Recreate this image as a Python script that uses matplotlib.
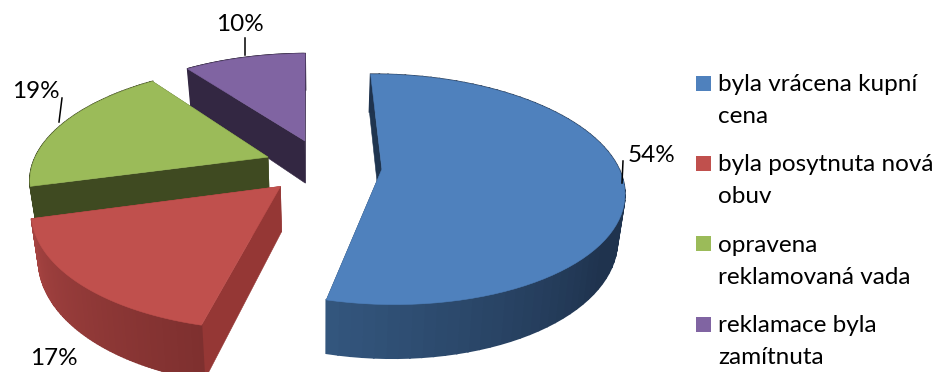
import matplotlib
matplotlib.use("Agg")
import matplotlib.pyplot as plt
from matplotlib.colors import to_rgb
import numpy as np

# Reasons and their shares in percent
categories = ["byla vrácena kupní\ncena", "byla posytnuta nová\nobuv",
              "opravena\nreklamovaná vada", "reklamace byla\nzamítnuta"]
values = [54, 17, 19, 10]
colors = ["#4F81BD", "#C0504D", "#9BBB59", "#8064A2"]
face_colors = ["#1F3550", "#953735", "#3F4A21", "#332742"]
# wall shade at the start and the end of each slice
wall_colors = [("#1F334E", "#34577F"), ("#7E302F", "#A54341"),
               ("#3F4A21", "#3F4A21"), ("#332742", "#332742")]

# 3D pie set up, in pixels
cx, cy = 323, 166
rx, ry = 236, 110.5
persp = 0.175
explode = 0.25
depth = 44
shrink = 0.975
start_angle = -0.7


def project(u, v):
    s = 1 / (1 + persp * v)
    return cx + rx * u * s, cy - ry * v * s, s


def top_point(u, v):
    x, y, s = project(u, v)
    return x, y


def bottom_point(u, v):
    x, y, s = project(u, v)
    return cx + (x - cx) * shrink, y + depth * s


def fill(points, color, z, lw=0.4):
    pts = np.array(points)
    ax.fill(pts[:, 0], pts[:, 1], color=color, lw=lw, zorder=z)


fig = plt.figure(figsize=(9.39, 3.72), dpi=100)
ax = fig.add_axes([0, 0, 1, 1])
ax.set_xlim(0, 939)
ax.set_ylim(372, 0)
ax.axis("off")

# slices go clockwise from the top, drawn back to front
angles = start_angle + np.cumsum([0] + values) * 3.6
order = [3, 2, 1, 0]
for n, i in enumerate(order):
    t0, t1 = angles[i], angles[i + 1]
    mid = np.radians((t0 + t1) / 2)
    ou, ov = explode * np.sin(mid), explode * np.cos(mid)
    t = np.radians(np.linspace(t0, t1, 80))
    us = ou + np.sin(t)
    vs = ov + np.cos(t)
    z = 2 + n * 5

    # radial faces
    for k in (0, -1):
        fill([top_point(ou, ov), top_point(us[k], vs[k]),
              bottom_point(us[k], vs[k]), bottom_point(ou, ov)], face_colors[i], z)

    # outer wall, split up so the shade can change along the arc
    c0 = np.array(to_rgb(wall_colors[i][0]))
    c1 = np.array(to_rgb(wall_colors[i][1]))
    for j in range(len(t) - 1):
        if i == 0:
            f = np.clip((np.degrees(t[j]) - 125) / (t1 - 125), 0, 1)
        else:
            f = j / (len(t) - 2)
        fill([top_point(us[j], vs[j]), top_point(us[j + 1], vs[j + 1]),
              bottom_point(us[j + 1], vs[j + 1]), bottom_point(us[j], vs[j])],
             tuple(c0 + (c1 - c0) * f), z + 1, lw=1.2)

    # top surface
    top = [top_point(ou, ov)] + [top_point(a, b) for a, b in zip(us, vs)]
    fill(top, colors[i], z + 2)

# value labels with their leader lines
font = "Lato"
size = 17.5
label_pos = [(628, 162), (30, 365), (12, 98), (216, 31)]
leaders = [((623, 161), (622, 183)), None, ((62, 98), (59, 122)), ((245, 38), (245, 55))]
for i in range(4):
    ax.text(label_pos[i][0], label_pos[i][1], f"{values[i]}%", family=font, fontsize=size,
            color="black", va="baseline", zorder=40)
    if leaders[i]:
        ax.plot([leaders[i][0][0], leaders[i][1][0]], [leaders[i][0][1], leaders[i][1][1]],
                color="black", lw=1.1, zorder=40)

# legend
square_y = [76, 156, 236, 317]
first_base = [91, 171, 252, 332]
for i in range(4):
    ax.fill([696, 711, 711, 696], [square_y[i], square_y[i], square_y[i] + 15, square_y[i] + 15],
            color=colors[i], lw=0, zorder=40)
    for j, line in enumerate(categories[i].split("\n")):
        ax.text(718, first_base[i] + j * 32, line, family=font, fontsize=size,
                color="black", va="baseline", zorder=40)

fig.savefig("out.png", dpi=100)
